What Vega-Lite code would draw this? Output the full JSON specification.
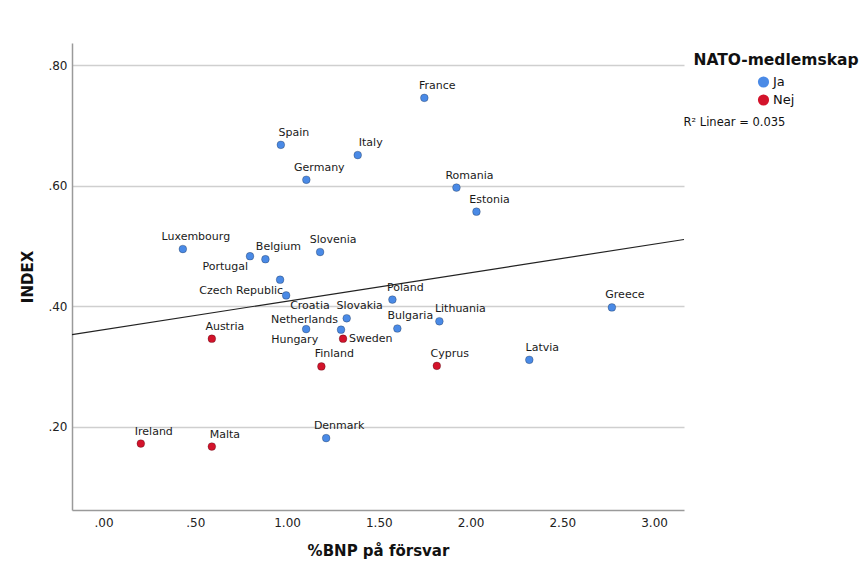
{
  "$schema": "https://vega.github.io/schema/vega-lite/v6.json",
  "width": 612,
  "height": 467,
  "autosize": {"type": "none"},
  "padding": {"left": 72, "top": 43, "right": 182, "bottom": 59},
  "background": "white",
  "config": {"view": {"stroke": null}, "font": "DejaVu Sans", "text": {"font": "DejaVu Sans"}},
  "data": {
    "values": [
      {"land": "France", "bnp": 1.748, "index": 0.746, "nato": "Ja"},
      {"land": "Spain", "bnp": 0.966, "index": 0.668, "nato": "Ja"},
      {"land": "Italy", "bnp": 1.385, "index": 0.651, "nato": "Ja"},
      {"land": "Germany", "bnp": 1.105, "index": 0.610, "nato": "Ja"},
      {"land": "Romania", "bnp": 1.923, "index": 0.597, "nato": "Ja"},
      {"land": "Estonia", "bnp": 2.032, "index": 0.557, "nato": "Ja"},
      {"land": "Luxembourg", "bnp": 0.432, "index": 0.495, "nato": "Ja"},
      {"land": "Portugal", "bnp": 0.798, "index": 0.483, "nato": "Ja"},
      {"land": "Belgium", "bnp": 0.882, "index": 0.478, "nato": "Ja"},
      {"land": "Slovenia", "bnp": 1.180, "index": 0.490, "nato": "Ja"},
      {"land": "Czech Republic", "bnp": 0.962, "index": 0.444, "nato": "Ja"},
      {"land": "Croatia", "bnp": 0.995, "index": 0.418, "nato": "Ja"},
      {"land": "Slovakia", "bnp": 1.325, "index": 0.380, "nato": "Ja"},
      {"land": "Netherlands", "bnp": 1.294, "index": 0.361, "nato": "Ja"},
      {"land": "Hungary", "bnp": 1.104, "index": 0.362, "nato": "Ja"},
      {"land": "Sweden", "bnp": 1.305, "index": 0.346, "nato": "Nej"},
      {"land": "Austria", "bnp": 0.590, "index": 0.346, "nato": "Nej"},
      {"land": "Finland", "bnp": 1.187, "index": 0.300, "nato": "Nej"},
      {"land": "Poland", "bnp": 1.574, "index": 0.411, "nato": "Ja"},
      {"land": "Bulgaria", "bnp": 1.601, "index": 0.363, "nato": "Ja"},
      {"land": "Lithuania", "bnp": 1.830, "index": 0.375, "nato": "Ja"},
      {"land": "Cyprus", "bnp": 1.816, "index": 0.301, "nato": "Nej"},
      {"land": "Greece", "bnp": 2.770, "index": 0.398, "nato": "Ja"},
      {"land": "Latvia", "bnp": 2.320, "index": 0.311, "nato": "Ja"},
      {"land": "Ireland", "bnp": 0.203, "index": 0.172, "nato": "Nej"},
      {"land": "Malta", "bnp": 0.590, "index": 0.167, "nato": "Nej"},
      {"land": "Denmark", "bnp": 1.213, "index": 0.181, "nato": "Ja"}
    ]
  },
  "encoding": {
    "x": {
      "field": "bnp",
      "type": "quantitative",
      "scale": {"domain": [-0.172, 3.163], "nice": false, "zero": false},
      "axis": {
        "title": "%BNP på försvar",
        "values": [0, 0.5, 1, 1.5, 2, 2.5, 3],
        "grid": false,
        "ticks": false,
        "domainColor": "#9a9a9a",
        "domainWidth": 1.5,
        "labelExpr": "datum.value < 1 ? substring(format(datum.value, '.2f'), 1) : format(datum.value, '.2f')",
        "labelFont": "DejaVu Sans",
        "labelFontSize": 12,
        "labelColor": "#222",
        "labelPadding": 7,
        "labelFlush": false,
        "titleFont": "DejaVu Sans",
        "titleFontSize": 15,
        "titleFontWeight": "bold",
        "titleColor": "#111",
        "titlePadding": 15
      }
    },
    "y": {
      "field": "index",
      "type": "quantitative",
      "scale": {"domain": [0.0616, 0.8371], "nice": false, "zero": false},
      "axis": {
        "title": "INDEX",
        "values": [0.2, 0.4, 0.6, 0.8],
        "grid": true,
        "gridColor": "#cfcfcf",
        "gridWidth": 1.5,
        "ticks": false,
        "domainColor": "#9a9a9a",
        "domainWidth": 1.5,
        "labelExpr": "datum.value < 1 ? substring(format(datum.value, '.2f'), 1) : format(datum.value, '.2f')",
        "labelFont": "DejaVu Sans",
        "labelFontSize": 12,
        "labelColor": "#222",
        "labelPadding": 5,
        "titleFont": "DejaVu Sans",
        "titleFontSize": 15,
        "titleFontWeight": "bold",
        "titleColor": "#111",
        "titlePadding": 12
      }
    }
  },
  "layer": [
    {
      "transform": [{"regression": "index", "on": "bnp", "extent": [-0.172, 3.163]}],
      "mark": {"type": "line", "strokeWidth": 1.2},
      "encoding": {
        "stroke": {
          "datum": "R² Linear = 0.035",
          "type": "nominal",
          "scale": {"range": ["#222222"]},
          "legend": {
            "title": null,
            "orient": "none",
            "legendX": 600,
            "legendY": 74,
            "padding": 0,
            "symbolSize": 1,
            "symbolOpacity": 0,
            "symbolStrokeWidth": 0,
            "labelOffset": 0,
            "labelFont": "DejaVu Sans",
            "labelFontSize": 11.5,
            "labelColor": "#111"
          }
        }
      }
    },
    {
      "mark": {"type": "point", "filled": true, "size": 60, "opacity": 1, "stroke": "black", "strokeOpacity": 0.3, "strokeWidth": 0.8},
      "encoding": {
        "color": {
          "field": "nato",
          "type": "nominal",
          "scale": {"domain": ["Ja", "Nej"], "range": ["#4a8ae6", "#d3132b"]},
          "legend": {
            "title": "NATO-medlemskap",
            "orient": "none",
            "legendX": 621,
            "legendY": 10,
            "padding": 0,
            "titleAnchor": "middle",
            "titleFont": "DejaVu Sans",
            "titleFontSize": 15.5,
            "titleFontWeight": "bold",
            "titleColor": "#111",
            "titlePadding": 7,
            "labelFont": "DejaVu Sans",
            "labelFontSize": 13,
            "labelColor": "#111",
            "labelOffset": 3,
            "symbolType": "circle",
            "symbolSize": 125,
            "symbolStrokeWidth": 0,
            "symbolOpacity": 1,
            "rowPadding": 4
          }
        }
      }
    },
    {
      "transform": [{"filter": {"not": {"field": "land", "oneOf": ["Portugal", "Czech Republic", "Croatia", "Netherlands", "Hungary", "Sweden", "Lithuania"]}}}],
      "mark": {"type": "text", "dx": 13, "dy": -12, "align": "center", "baseline": "middle", "fontSize": 11, "color": "#1a1a1a"},
      "encoding": {"text": {"field": "land"}}
    },
    {
      "transform": [{"filter": {"field": "land", "equal": "Portugal"}}],
      "mark": {"type": "text", "dx": -2, "dy": 11, "align": "right", "baseline": "middle", "fontSize": 11, "color": "#1a1a1a"},
      "encoding": {"text": {"field": "land"}}
    },
    {
      "transform": [{"filter": {"field": "land", "equal": "Czech Republic"}}],
      "mark": {"type": "text", "dx": 3, "dy": 11, "align": "right", "baseline": "middle", "fontSize": 11, "color": "#1a1a1a"},
      "encoding": {"text": {"field": "land"}}
    },
    {
      "transform": [{"filter": {"field": "land", "equal": "Croatia"}}],
      "mark": {"type": "text", "dx": 4, "dy": 11, "align": "left", "baseline": "middle", "fontSize": 11, "color": "#1a1a1a"},
      "encoding": {"text": {"field": "land"}}
    },
    {
      "transform": [{"filter": {"field": "land", "equal": "Netherlands"}}],
      "mark": {"type": "text", "dx": -3, "dy": -10, "align": "right", "baseline": "middle", "fontSize": 11, "color": "#1a1a1a"},
      "encoding": {"text": {"field": "land"}}
    },
    {
      "transform": [{"filter": {"field": "land", "equal": "Hungary"}}],
      "mark": {"type": "text", "dx": 12, "dy": 11, "align": "right", "baseline": "middle", "fontSize": 11, "color": "#1a1a1a"},
      "encoding": {"text": {"field": "land"}}
    },
    {
      "transform": [{"filter": {"field": "land", "equal": "Sweden"}}],
      "mark": {"type": "text", "dx": 6, "dy": 0, "align": "left", "baseline": "middle", "fontSize": 11, "color": "#1a1a1a"},
      "encoding": {"text": {"field": "land"}}
    },
    {
      "transform": [{"filter": {"field": "land", "equal": "Lithuania"}}],
      "mark": {"type": "text", "dx": 21, "dy": -12, "align": "center", "baseline": "middle", "fontSize": 11, "color": "#1a1a1a"},
      "encoding": {"text": {"field": "land"}}
    }
  ]
}
